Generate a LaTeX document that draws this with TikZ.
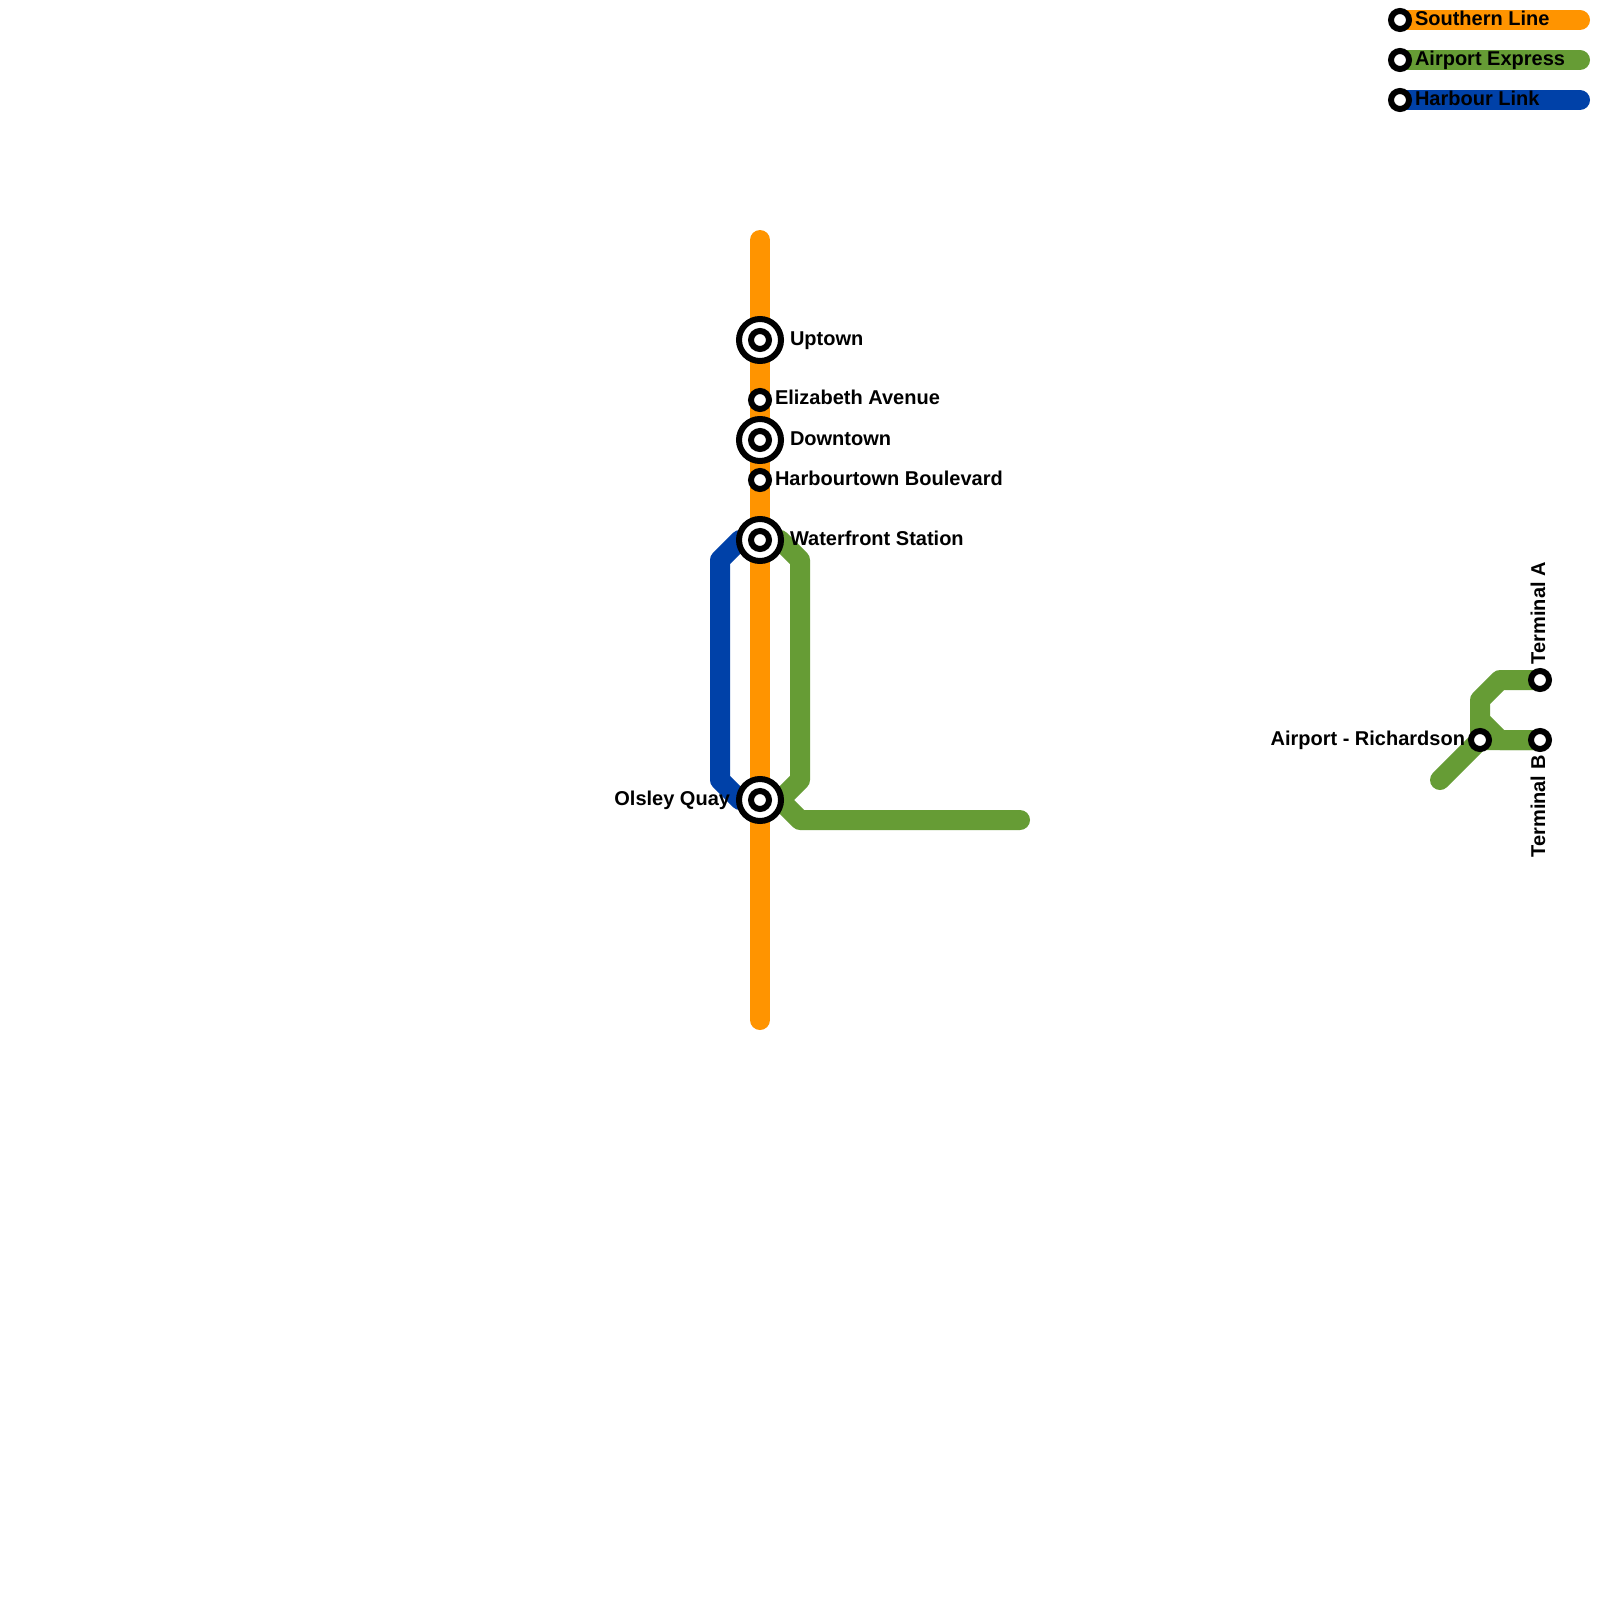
\documentclass[tikz,border=0pt]{standalone}
\usepackage{fontspec}
\setmainfont{Liberation Sans}
\definecolor{southern}{HTML}{FF9400}
\definecolor{airport}{HTML}{669C35}
\definecolor{harbour}{HTML}{0041A8}
\tikzset{
  metro/.style={line width=20pt,line cap=round,line join=round},
  stationdot/.style={circle,draw=black,fill=white,line width=6pt,minimum size=18pt,inner sep=0pt},
  hubring/.style={circle,draw=black,fill=white,line width=6pt,minimum size=42pt,inner sep=0pt},
  lbl/.style={inner sep=0pt,outer sep=0pt,text=black,font=\fontsize{20}{24}\selectfont\bfseries}
}
\begin{document}
\begin{tikzpicture}[x=1pt,y=-1pt]
\useasboundingbox (0,0) rectangle (1600,1600);
\fill[white] (0,0) rectangle (1600,1600);
% way points
\coordinate (sTop) at (760,240);
\coordinate (sBot) at (760,1020);
\coordinate (wf) at (760,540);
\coordinate (oq) at (760,800);
\coordinate (h0) at (740,540);
\coordinate (h1) at (720,560);
\coordinate (h2) at (720,780);
\coordinate (h3) at (740,800);
\coordinate (g0) at (780,540);
\coordinate (g1) at (800,560);
\coordinate (g2) at (800,780);
\coordinate (g3) at (780,800);
\coordinate (g4) at (800,820);
\coordinate (g5) at (1020,820);
\coordinate (ar) at (1480,740);
\coordinate (ta) at (1540,680);
\coordinate (tb) at (1540,740);
\coordinate (a0) at (1440,780);
\coordinate (a1) at (1500,680);
\coordinate (a2) at (1480,700);
\coordinate (a3) at (1480,720);
\coordinate (a4) at (1500,740);
% lines
\draw[metro,harbour] (wf) -- (h0) -- (h1) -- (h2) -- (h3) -- (oq);
\draw[metro,airport] (wf) -- (g0) -- (g1) -- (g2) -- (g3) -- (g4) -- (g5);
\draw[metro,southern] (sTop) -- (sBot);
\draw[metro,airport] (a0) -- (ar) -- (tb);
\draw[metro,airport] (ta) -- (a1) -- (a2) -- (a3) -- (a4) -- (tb);
\draw[metro,airport] (a3) -- (ar);
% legend
\coordinate (l1a) at (1400,20); \coordinate (l1b) at (1580,20);
\coordinate (l2a) at (1400,60); \coordinate (l2b) at (1580,60);
\coordinate (l3a) at (1400,100); \coordinate (l3b) at (1580,100);
\draw[metro,southern] (l1a) -- (l1b);
\draw[metro,airport] (l2a) -- (l2b);
\draw[metro,harbour] (l3a) -- (l3b);
\node[stationdot] (k1) at (l1a) {};
\node[stationdot] (k2) at (l2a) {};
\node[stationdot] (k3) at (l3a) {};
\node[lbl,anchor=base west] (k1t) at (1415,25.5) {Southern Line};
\node[lbl,anchor=base west] (k2t) at (1415,65.5) {Airport Express};
\node[lbl,anchor=base west] (k3t) at (1415,105.5) {Harbour Link};
% hubs
\foreach \n/\y in {up/340,dt/440,wfs/540,ol/800}{
  \node[hubring] (\n) at (760,\y) {};
  \node[stationdot] (\n i) at (760,\y) {};
}
\node[stationdot] (el) at (760,400) {};
\node[stationdot] (hb) at (760,480) {};
\node[stationdot] (arS) at (ar) {};
\node[stationdot] (taS) at (ta) {};
\node[stationdot] (tbS) at (tb) {};
% labels
\node[lbl,anchor=base west] (upT) at (790,345) {Uptown};
\node[lbl,anchor=base west] (elT) at (775,404.5) {Elizabeth Avenue};
\node[lbl,anchor=base west] (dtT) at (790,445) {Downtown};
\node[lbl,anchor=base west] (hbT) at (775,485) {Harbourtown Boulevard};
\node[lbl,anchor=base west] (wfT) at (790,545) {Waterfront Station};
\node[lbl,anchor=base east] (olT) at (730,805) {Olsley Quay};
\node[lbl,anchor=base east] (arT) at (1465,745) {Airport - Richardson};
\node[lbl,anchor=base west,rotate=90] (taT) at (1545,664) {Terminal A};
\node[lbl,anchor=base east,rotate=90] (tbT) at (1545,755.5) {Terminal B};
\end{tikzpicture}
\end{document}
